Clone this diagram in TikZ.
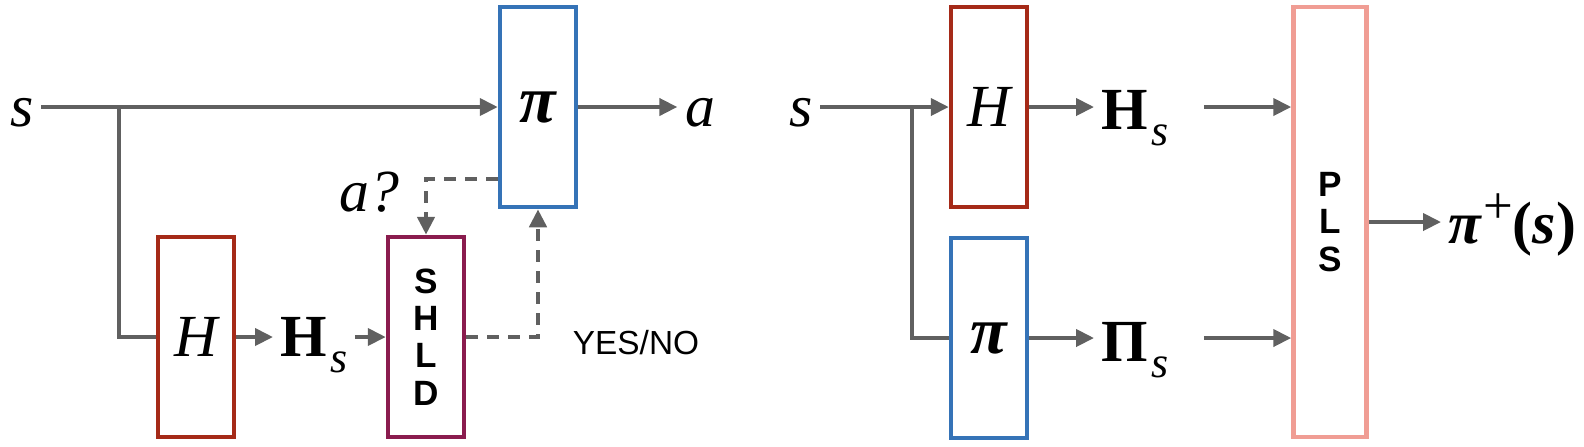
\documentclass[tikz,border=0pt]{standalone}
\usepackage{fontspec}
\usetikzlibrary{arrows.meta}
\newfontfamily\labelfont{Liberation Sans}
\newfontfamily\symfont{Liberation Serif}
\newcommand\diagfont{\symfont\fontsize{17}{20}\selectfont}
\newcommand\stackfont{\labelfont\bfseries\fontsize{10}{10.6}\selectfont}
\newcommand\subs[1]{\kern0.8pt\raisebox{-4.8pt}{\fontsize{12.5}{13}\selectfont\mdseries\itshape #1}}
\definecolor{hred}{RGB}{165,42,24}
\definecolor{pblue}{RGB}{53,115,183}
\definecolor{spurple}{RGB}{138,28,78}
\definecolor{ppink}{RGB}{240,157,148}
\definecolor{lgray}{RGB}{96,96,96}
\tikzset{
  box/.style={draw,line width=0.45mm,fill=white,minimum width=7.6mm,minimum height=20mm,inner sep=0pt,font=\diagfont},
  lbl/.style={inner sep=2pt,font=\diagfont},
  conn/.style={draw=lgray,line width=0.4mm},
  dashconn/.style={conn,line width=0.45mm,dash pattern=on 1.2mm off 0.9mm}
}
\begin{document}
\begin{tikzpicture}[x=0.1mm,y=-0.1mm,>={Triangle[length=1.8mm,width=1.7mm]}]
        \useasboundingbox (0,0) rectangle (1584,446);

        \begin{scope}[every node/.style={box}]
          \node[draw=pblue]   (pi1)  at (538,107)  {\fontsize{19}{20}\selectfont\bfseries\itshape π};
          \node[draw=hred]    (H1)   at (196,337)  {\itshape H};
          \node[draw=spurple,align=center,font=\stackfont] (shld) at (426,337) {S\\H\\L\\D};
          \node[draw=hred]    (H2)   at (989,107)  {\itshape H};
          \node[draw=pblue]   (pi2)  at (989,338)  {\fontsize{19}{20}\selectfont\bfseries\itshape π};
          \node[draw=ppink,align=center,font=\stackfont,minimum width=7.3mm,minimum height=43mm] (pls) at (1330,222) {P\\L\\S};
        \end{scope}

        \begin{scope}[every node/.style={lbl}]
          \node (s1)   at (22,113)   {\itshape s};
          \node (a1)   at (700,113)  {\itshape a};
          \node (q1)   at (369,192)  {\itshape a?};
          \node[anchor=base west] (Hs1) at (273,356) {\bfseries H\subs{s}};
          \node[font=\labelfont\fontsize{9.5}{11}\selectfont] (yn) at (636,343) {YES/NO};
          \node (s2)   at (801,113)  {\itshape s};
          \node[anchor=base west] (Hs2)  at (1094,129) {\bfseries H\subs{s}};
          \node[anchor=base west] (Pis2) at (1094,361) {\bfseries Π\subs{s}};
          \node[anchor=base west] (pip) at (1441,243) {\bfseries{\itshape π}\kern0.5pt\raisebox{5.5pt}{\fontsize{15}{16}\selectfont\mdseries +}(\textit{s})};
        \end{scope}

        \coordinate (j1) at (119,107);
        \coordinate (j2) at (912,107);

        \begin{scope}[every path/.style={conn}]
          % left
          \path[->] (pi1.west -| s1.east) -- (pi1);
          \path (j1) |- (H1);
          \path[->] (pi1) -- (pi1.east -| a1.west);
          \path[->] (H1) -- (H1.east -| Hs1.west);
          \path[->] (Hs1.east |- shld.west) -- (shld);
          \path[->,dashconn] ([yshift=-7.2mm]pi1.west) -| (shld);
          \path[->,dashconn] (shld) -| (pi1);
          % right
          \path[->] (H2.west -| s2.east) -- (H2);
          \path (j2) |- (pi2);
          \path[->] (H2) -- (H2.east -| Hs2.west);
          \path[->] (pi2) -- (pi2.east -| Pis2.west);
          \path[->] (Hs2.east |- H2.east) ++(28,0) -- (H2.east -| pls.west);
          \path[->] (Pis2.east |- pi2.east) ++(28,0) -- (pi2.east -| pls.west);
          \path[->] (pls) -- (pls.east -| pip.west);
        \end{scope}

      \end{tikzpicture}
\end{document}
